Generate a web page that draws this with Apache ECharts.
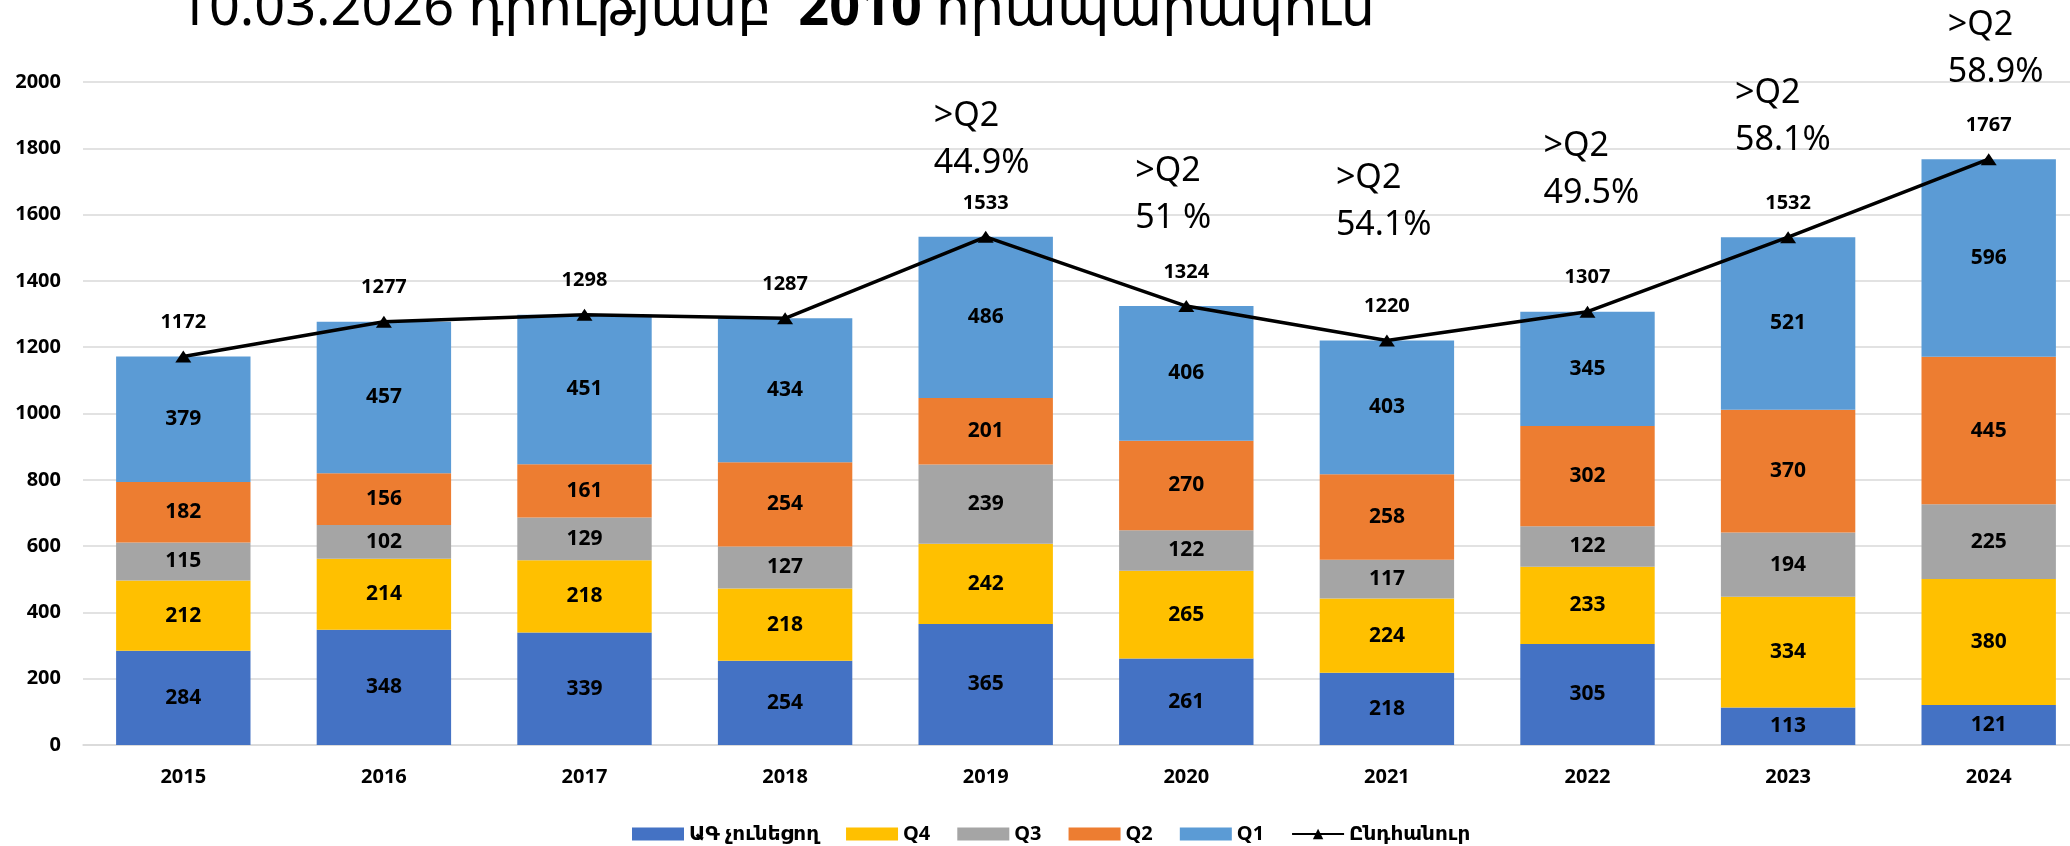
<!DOCTYPE html>
<html>
<head>
    <meta charset="utf-8">
    <title>Հրապարակումներ ըստ տարիների</title>
    <script src="https://cdn.jsdelivr.net/npm/echarts@6/dist/echarts.min.js"></script>
    <style type="text/css">
        html, body {
            margin: 0;
            padding: 0;
            background: #ffffff;
        }
        #main {
            width: 2070px;
            height: 846px;
        }
    </style>
</head>
<body>
<div id="main"></div>
<script>
    // տվյալներ
    var years = ['2015', '2016', '2017', '2018', '2019', '2020', '2021', '2022', '2023', '2024'];
    var noQuartile = [284, 348, 339, 254, 365, 261, 218, 305, 113, 121];
    var q4 = [212, 214, 218, 218, 242, 265, 224, 233, 334, 380];
    var q3 = [115, 102, 129, 127, 239, 122, 117, 122, 194, 225];
    var q2 = [182, 156, 161, 254, 201, 270, 258, 302, 370, 445];
    var q1 = [379, 457, 451, 434, 486, 406, 403, 345, 521, 596];
    var totals = [1172, 1277, 1298, 1287, 1533, 1324, 1220, 1307, 1532, 1767];

    var noteYears = ['2019', '2020', '2021', '2022', '2023', '2024'];
    var noteShares = ['44.9%', '51 %', '54.1%', '49.5%', '58.1%', '58.9%'];

    // դասավորություն
    var noteTop = [93, 148, 155, 123, 70, 2];
    var noteShift = [-52, -51, -51, -44, -53, -41];

    var font = "'Noto Sans', 'DejaVu Sans', sans-serif";
    var colors = ['#4472C4', '#FFC000', '#A5A5A5', '#ED7D31', '#5B9BD5'];

    var chart = echarts.init(document.getElementById('main'), null, {renderer: 'canvas'});

    function barSeries(name, data, color) {
        return {
            name: name,
            type: 'bar',
            stack: 'all',
            data: data,
            barWidth: '67%',
            itemStyle: {color: color},
            label: {
                show: true,
                position: 'inside',
                color: '#000',
                fontFamily: font,
                fontWeight: 'bold',
                fontSize: 21
            }
        };
    }

    var option = {
        animation: false,
        textStyle: {fontFamily: font},
        title: {
            left: 178,
            top: -17,
            padding: 0,
            text: '{a|10.03.2026 դրությամբ՝ }{b|2010}{a| հրապարակում}',
            textStyle: {
                fontWeight: 'normal',
                rich: {
                    a: {fontFamily: font, fontSize: 54, fontWeight: 'normal', color: '#000'},
                    b: {fontFamily: font, fontSize: 54, fontWeight: 'bold', color: '#000'}
                }
            }
        },
        grid: {
            left: 83,
            width: 2006,
            top: 82,
            bottom: 101,
            containLabel: false,
            outerBoundsMode: 'none'
        },
        legend: {
            left: 632,
            top: 824,
            padding: 0,
            itemWidth: 52,
            itemHeight: 13,
            itemGap: 27,
            textStyle: {
                fontFamily: font,
                fontSize: 20,
                fontWeight: 'bold',
                color: '#000'
            },
            data: [
                {name: 'ԱԳ չունեցող', icon: 'rect'},
                {name: 'Q4', icon: 'rect'},
                {name: 'Q3', icon: 'rect'},
                {name: 'Q2', icon: 'rect'},
                {name: 'Q1', icon: 'rect'},
                {name: 'Ընդհանուր'}
            ]
        },
        xAxis: {
            type: 'category',
            data: years,
            axisTick: {show: false},
            axisLine: {lineStyle: {color: '#d9d9d9', width: 1.5}},
            axisLabel: {
                margin: 22,
                color: '#000',
                fontFamily: font,
                fontSize: 20,
                fontWeight: 'bold'
            }
        },
        yAxis: {
            type: 'value',
            min: 0,
            max: 2000,
            interval: 200,
            axisLine: {show: false},
            axisTick: {show: false},
            splitLine: {lineStyle: {color: '#d9d9d9', width: 1.5}},
            axisLabel: {
                margin: 22,
                color: '#000',
                fontFamily: font,
                fontSize: 20,
                fontWeight: 'bold',
                formatter: function (v) {
                    return String(v);
                }
            }
        },
        series: [
            barSeries('ԱԳ չունեցող', noQuartile, colors[0]),
            barSeries('Q4', q4, colors[1]),
            barSeries('Q3', q3, colors[2]),
            barSeries('Q2', q2, colors[3]),
            barSeries('Q1', q1, colors[4]),
            {
                name: 'Ընդհանուր',
                type: 'line',
                data: totals,
                z: 5,
                symbol: 'triangle',
                symbolSize: [16, 12],
                itemStyle: {color: '#000'},
                lineStyle: {color: '#000', width: 3.5},
                label: {
                    show: true,
                    position: 'top',
                    distance: 18,
                    color: '#000',
                    fontFamily: font,
                    fontSize: 20,
                    fontWeight: 'bold'
                }
            }
        ]
    };

    chart.setOption(option);

    // >Q2 մեկնաբանություններ
    var notes = [];
    for (var i = 0; i < noteYears.length; i++) {
        var x = chart.convertToPixel({xAxisIndex: 0}, noteYears[i]);
        notes.push({
            type: 'text',
            left: x + noteShift[i],
            top: noteTop[i],
            style: {
                text: '>Q2\n' + noteShares[i],
                fill: '#000',
                font: '34px ' + font,
                lineHeight: 47
            }
        });
    }
    chart.setOption({graphic: notes});
</script>
</body>
</html>
